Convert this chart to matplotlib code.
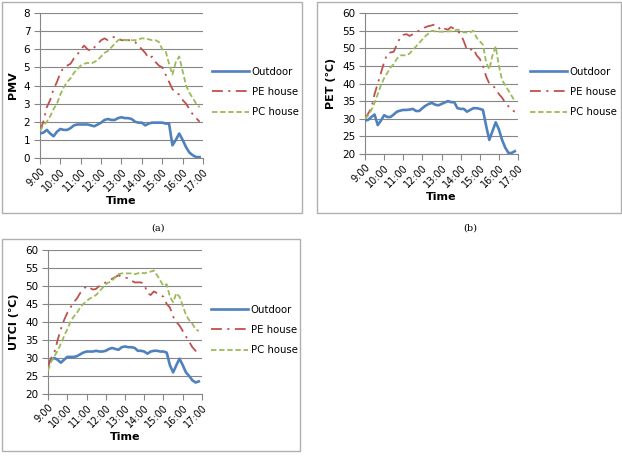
import numpy as np
import matplotlib
matplotlib.use("Agg")
import matplotlib.pyplot as plt
from matplotlib.patches import Rectangle

# 10-minute readings from 9:00 to 16:50
tiempo = 9 + np.arange(48) / 6.0
horas = [9, 10, 11, 12, 13, 14, 15, 16, 17]
etiquetas_horas = ["9:00", "10:00", "11:00", "12:00", "13:00", "14:00", "15:00", "16:00", "17:00"]

pmv_outdoor = [1.35, 1.4, 1.55, 1.35, 1.2, 1.45, 1.6, 1.55, 1.55, 1.65, 1.8, 1.85,
               1.85, 1.85, 1.85, 1.8, 1.75, 1.85, 1.95, 2.1, 2.15, 2.1, 2.1, 2.2,
               2.25, 2.2, 2.2, 2.15, 2.0, 1.95, 1.95, 1.8, 1.9, 1.95, 1.95, 1.95,
               1.95, 1.9, 1.9, 0.7, 1.0, 1.35, 1.0, 0.6, 0.3, 0.15, 0.05, 0.05]
pmv_pe = [1.5, 2.0, 2.8, 3.2, 3.8, 4.2, 4.7, 5.0, 5.1, 5.2, 5.5, 5.7,
          6.0, 6.2, 6.0, 5.9, 6.1, 6.3, 6.5, 6.6, 6.5, 6.6, 6.7, 6.6,
          6.5, 6.5, 6.5, 6.5, 6.4, 6.2, 6.0, 5.8, 5.5, 5.6, 5.3, 5.1,
          5.0, 4.6, 4.2, 3.8, 3.6, 3.5, 3.2, 3.0, 2.7, 2.4, 2.2, 2.0]
pmv_pc = [1.5, 1.8, 2.0, 2.3, 2.7, 3.0, 3.5, 3.9, 4.2, 4.4, 4.7, 4.9,
          5.1, 5.2, 5.25, 5.2, 5.3, 5.4, 5.6, 5.8, 5.9, 6.1, 6.3, 6.5,
          6.55, 6.5, 6.5, 6.5, 6.5, 6.55, 6.6, 6.6, 6.55, 6.5, 6.5, 6.4,
          6.0, 5.9, 5.2, 4.6, 5.3, 5.6, 4.8, 4.0, 3.6, 3.3, 3.0, 2.8]

pet_outdoor = [29.5, 29.7, 30.5, 31.2, 28.2, 29.5, 31.0, 30.5, 30.5, 31.2, 32.0, 32.3,
               32.5, 32.5, 32.6, 32.8, 32.2, 32.2, 33.0, 33.7, 34.2, 34.5, 34.0, 33.8,
               34.2, 34.6, 35.0, 34.7, 34.7, 33.0, 32.8, 32.8, 32.0, 32.5, 33.0, 33.0,
               32.8, 32.5, 28.0, 24.0, 26.5, 29.0, 27.0, 24.0, 21.8, 20.3, 20.3, 20.8]
pet_pe = [30.0, 31.5, 33.0, 37.0, 40.0, 43.0, 46.0, 48.5, 48.8, 49.0, 51.0, 53.0,
          53.8, 54.0, 53.5, 54.0, 54.5, 55.0, 55.5, 56.0, 56.3, 56.5, 56.8, 56.0,
          55.0, 55.5, 55.3, 56.0, 55.5, 55.0, 54.0, 52.0, 49.5, 49.5, 50.0, 48.0,
          47.0, 45.0, 42.0, 40.0, 39.5, 38.5, 37.0, 36.0, 34.5, 33.5, 32.5, 32.0]
pet_pc = [30.0, 31.0, 32.5, 34.5, 37.0, 39.5, 41.5, 43.0, 44.5, 45.5, 47.0, 48.0,
          48.0, 48.0, 48.5, 49.5, 50.5, 51.5, 52.5, 53.5, 54.2, 55.0, 54.8, 54.7,
          54.7, 54.7, 54.8, 54.8, 55.0, 55.3, 55.0, 54.5, 54.5, 54.5, 55.0, 53.0,
          52.0, 51.0, 46.0, 44.0, 48.0, 50.5, 45.0, 41.0, 39.5, 38.0, 36.5, 35.0]

utci_outdoor = [28.5, 29.5, 30.0, 29.5, 28.7, 29.5, 30.3, 30.3, 30.3, 30.5, 31.0, 31.5,
                31.8, 31.8, 31.8, 32.0, 31.8, 31.8, 32.0, 32.5, 32.8, 32.5, 32.3, 33.0,
                33.2, 33.0, 33.0, 32.8, 32.0, 32.0, 31.8, 31.2, 31.8, 32.0, 32.0, 31.8,
                31.8, 31.5, 28.0, 26.0, 28.0, 29.8, 28.0, 26.0, 25.0, 23.8, 23.2, 23.5]
utci_pe = [27.5, 30.0, 31.5, 35.0, 38.0, 40.5, 42.5, 44.0, 45.5, 46.5, 48.0, 49.0,
           50.0, 49.5, 49.0, 49.2, 50.0, 50.5, 51.0, 51.5, 52.0, 52.5, 53.0, 52.5,
           52.3, 52.2, 51.5, 51.0, 51.0, 51.0, 50.5, 48.0, 47.5, 48.5, 48.0, 47.5,
           47.0, 45.0, 44.0, 41.5, 40.0, 39.0, 37.5, 36.0, 34.5, 33.0, 32.0, 31.5]
utci_pc = [26.5, 29.0, 30.5, 32.0, 34.0, 36.0, 38.0, 40.0, 41.5, 42.5, 44.0, 45.0,
           45.8, 46.5, 47.0, 47.5, 48.5, 49.5, 50.5, 51.0, 51.5, 52.5, 53.3, 53.5,
           53.5, 53.5, 53.5, 53.3, 53.5, 53.8, 53.5, 53.8, 54.0, 54.3, 53.0, 51.5,
           50.0, 50.5, 47.0, 45.5, 48.0, 47.0, 44.5, 42.0, 40.5, 39.5, 38.0, 37.5]

W, H = 622, 458
fig = plt.figure(figsize=(W / 100, H / 100), dpi=100)
fig.patch.set_facecolor("white")

azul = "#4F81BD"
rojo = "#C0504D"
verde = "#9BBB59"


def caja(x0, y0, x1, y1):
    return [x0 / W, 1 - y1 / H, (x1 - x0) / W, (y1 - y0) / H]


def panel(borde, area, leyenda_xy, datos, ylim, yticks, ylabel):
    fig.patches.append(Rectangle((borde[0], borde[1]), borde[2], borde[3],
                                 transform=fig.transFigure, fill=False,
                                 edgecolor="#b0b0b0", linewidth=1.0))
    ax = fig.add_axes(area)
    outdoor, pe, pc = datos
    ax.plot(tiempo, outdoor, color=azul, lw=1.9, label="Outdoor", zorder=3)
    ax.plot(tiempo, pe, color=rojo, lw=1.3, dashes=(6, 3, 1.2, 3), label="PE house", zorder=3)
    ax.plot(tiempo, pc, color=verde, lw=1.3, dashes=(3, 1.5), label="PC house", zorder=3)
    ax.set_xlim(9, 17)
    ax.set_ylim(*ylim)
    ax.set_yticks(yticks)
    ax.set_xticks(horas)
    ax.set_xticklabels(etiquetas_horas, rotation=45, ha="right", rotation_mode="anchor")
    ax.tick_params(axis="x", labelsize=7, length=4, width=0.8, color="#868686", pad=2)
    ax.tick_params(axis="y", labelsize=7.5, length=4, width=0.8, color="#868686", pad=3)
    ax.yaxis.grid(True, color="#868686", lw=0.8)
    ax.set_axisbelow(True)
    for lado in ["top", "right"]:
        ax.spines[lado].set_visible(False)
    for lado in ["left", "bottom"]:
        ax.spines[lado].set_color("#868686")
        ax.spines[lado].set_linewidth(0.8)
    ax.set_xlabel("Time", fontsize=8, fontweight="bold", labelpad=2)
    ax.set_ylabel(ylabel, fontsize=8, fontweight="bold", labelpad=4)
    ax.legend(loc="center left", bbox_to_anchor=(leyenda_xy[0] / W, 1 - leyenda_xy[1] / H),
              bbox_transform=fig.transFigure, frameon=False, fontsize=7.3,
              handlelength=3.6, labelspacing=1.0, handletextpad=0.3,
              borderpad=0, borderaxespad=0)
    return ax


panel(caja(2, 2, 302, 213), caja(40, 13, 203, 158), (212, 92),
      (pmv_outdoor, pmv_pe, pmv_pc), (0, 8), range(0, 9), "PMV")
panel(caja(317, 2, 621, 213), caja(365, 13, 518, 154), (530, 92),
      (pet_outdoor, pet_pe, pet_pc), (20, 60), range(20, 61, 5), "PET (\u2103)")
panel(caja(2, 239, 300, 451), caja(48, 250, 202, 394), (211, 330),
      (utci_outdoor, utci_pe, utci_pc), (20, 60), range(20, 61, 5), "UTCI (\u2103)")

fig.text(158 / W, 1 - 228 / H, "(a)", ha="center", va="center", fontsize=7, family="DejaVu Serif")
fig.text(470 / W, 1 - 228 / H, "(b)", ha="center", va="center", fontsize=7, family="DejaVu Serif")

fig.savefig("out.png", dpi=100)
